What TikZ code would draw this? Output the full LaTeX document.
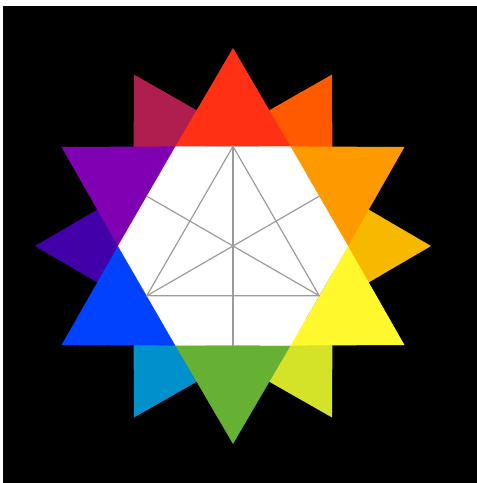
\documentclass[tikz,border=0pt]{standalone}
\usetikzlibrary{calc}
\definecolor{cRed}{HTML}{FF3014}
\definecolor{cOrange}{HTML}{FF9900}
\definecolor{cYellow}{HTML}{FFF82C}
\definecolor{cGreen}{HTML}{66B034}
\definecolor{cBlue}{HTML}{0042FF}
\definecolor{cPurple}{HTML}{8000B4}
\definecolor{cCrimson}{HTML}{B01E50}
\definecolor{cOrRed}{HTML}{FF5A00}
\definecolor{cYelOr}{HTML}{F8B800}
\definecolor{cIndigo}{HTML}{4200A8}
\definecolor{cCyan}{HTML}{0090CC}
\definecolor{cYelGr}{HTML}{D4E228}
\definecolor{cLine}{HTML}{9C9C9C}
\tikzset{pt/.style={fill=#1, draw=none}, gline/.style={draw=cLine, line width=1.2pt}}
\begin{document}
\begin{tikzpicture}[x=1pt,y=1pt]
\useasboundingbox (0,0) rectangle (477,483);
\fill[black] (3,-3) rectangle (480,477);
\coordinate (c) at (233,237);
\def\R{198}
\def\r{115}
% second (small) hexagram points: tips at 0,60,...; bases at inner vertices at 30,90,...
\foreach \a/\col in {0/cYelOr,60/cOrRed,120/cCrimson,180/cIndigo,240/cCyan,300/cYelGr}{
  \fill[pt=\col] ($(c)+(\a:\R)$) -- ($(c)+(\a+30:\r)$) -- ($(c)+(\a-30:\r)$) -- cycle;
}
% main hexagram points: tips at 30,90,...; bases at inner vertices at 0,60,...
\foreach \a/\col in {90/cRed,30/cOrange,330/cYellow,270/cGreen,210/cBlue,150/cPurple}{
  \fill[pt=\col] ($(c)+(\a:\R)$) -- ($(c)+(\a+30:\r)$) -- ($(c)+(\a-30:\r)$) -- cycle;
}
% white hexagon
\fill[white] ($(c)+(0:\r)$) -- ($(c)+(60:\r)$) -- ($(c)+(120:\r)$) -- ($(c)+(180:\r)$) -- ($(c)+(240:\r)$) -- ($(c)+(300:\r)$) -- cycle;
% edge midpoints
\foreach \a in {30,90,150,210,270,330}{
  \coordinate (m\a) at ($(c)+(\a:0.866*\r)$);
}
\draw[gline] (m90) -- (m270);
\draw[gline] (m30) -- (m210);
\draw[gline] (m150) -- (m330);
\draw[gline] (m90) -- (m210) -- (m330) -- cycle;
\end{tikzpicture}
\end{document}
